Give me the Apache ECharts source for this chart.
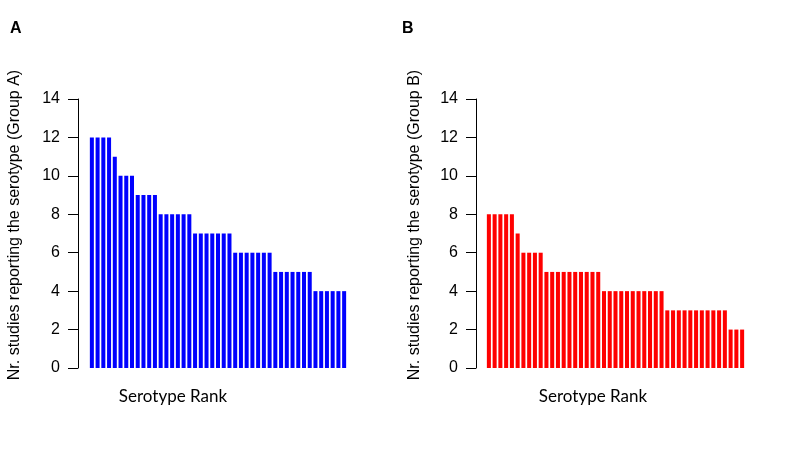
<!DOCTYPE html>
<html>
<head>
<meta charset="utf-8">
<script src="https://cdn.jsdelivr.net/npm/echarts@6/dist/echarts.min.js"></script>
<style>html,body{margin:0;padding:0;background:#fff}#c{width:795px;height:466px}</style>
</head>
<body>
<div id="c"></div>
<script>
const ranks = [1,2,3,4,5,6,7,8,9,10,11,12,13,14,15,16,17,18,19,20,21,22,23,24,25,26,27,28,29,30,31,32,33,34,35,36,37,38,39,40,41,42,43,44,45];
const groupA = [12,12,12,12,11,10,10,10,9,9,9,9,8,8,8,8,8,8,7,7,7,7,7,7,7,6,6,6,6,6,6,6,5,5,5,5,5,5,5,4,4,4,4,4,4];
const groupB = [8,8,8,8,8,7,6,6,6,6,5,5,5,5,5,5,5,5,5,5,4,4,4,4,4,4,4,4,4,4,4,3,3,3,3,3,3,3,3,3,3,3,2,2,2];
const yTicks = [0,2,4,6,8,10,12,14];
const panelLabels = ['A','B'];
const yTitles = ['Nr. studies reporting the serotype (Group A)','Nr. studies reporting the serotype (Group B)'];
const xTitle = 'Serotype Rank';

const chart = echarts.init(document.getElementById('c'));
const axisFont = 'Liberation Sans, Arial, sans-serif';
function yAx(gi, off){
  return {
    type:'value', gridIndex:gi, min:yTicks[0], max:yTicks[yTicks.length-1], interval:2, offset:off,
    axisLine:{show:true, lineStyle:{color:'#000', width:1}},
    axisTick:{show:true, length:10, lineStyle:{color:'#000', width:1}},
    axisLabel:{color:'#000', fontSize:16, fontFamily:axisFont, margin:18},
    splitLine:{show:false}
  };
}
function xAx(gi){
  return {type:'category', gridIndex:gi, data:ranks, show:false, boundaryGap:true};
}
chart.setOption({
  animation:false,
  grid:[
    {left:89, width:258, top:99, height:269},
    {left:486, width:259, top:99, height:269}
  ],
  xAxis:[xAx(0), xAx(1)],
  yAxis:[yAx(0, 11), yAx(1, 10)],
  series:[
    {type:'bar', xAxisIndex:0, yAxisIndex:0, data:groupA, barCategoryGap:'30%', itemStyle:{color:'#0000FF'}},
    {type:'bar', xAxisIndex:1, yAxisIndex:1, data:groupB, barCategoryGap:'30%', itemStyle:{color:'#FF0000'}}
  ],
  graphic:[
    {type:'text', left:10, top:21, style:{text:panelLabels[0], font:'bold 16px '+axisFont, fill:'#000'}},
    {type:'text', left:402, top:21, style:{text:panelLabels[1], font:'bold 16px '+axisFont, fill:'#000'}},
    {type:'text', x:15, y:225, rotation:Math.PI/2, style:{text:yTitles[0], font:'16px '+axisFont, fill:'#000', align:'center', verticalAlign:'middle'}},
    {type:'text', x:415, y:225, rotation:Math.PI/2, style:{text:yTitles[1], font:'16px '+axisFont, fill:'#000', align:'center', verticalAlign:'middle'}},
    {type:'text', x:173, y:397, style:{text:xTitle, font:'17px Lato, Open Sans, sans-serif', fill:'#000', align:'center', verticalAlign:'middle'}},
    {type:'text', x:593, y:397, style:{text:xTitle, font:'17px Lato, Open Sans, sans-serif', fill:'#000', align:'center', verticalAlign:'middle'}}
  ]
});
</script>
</body>
</html>
